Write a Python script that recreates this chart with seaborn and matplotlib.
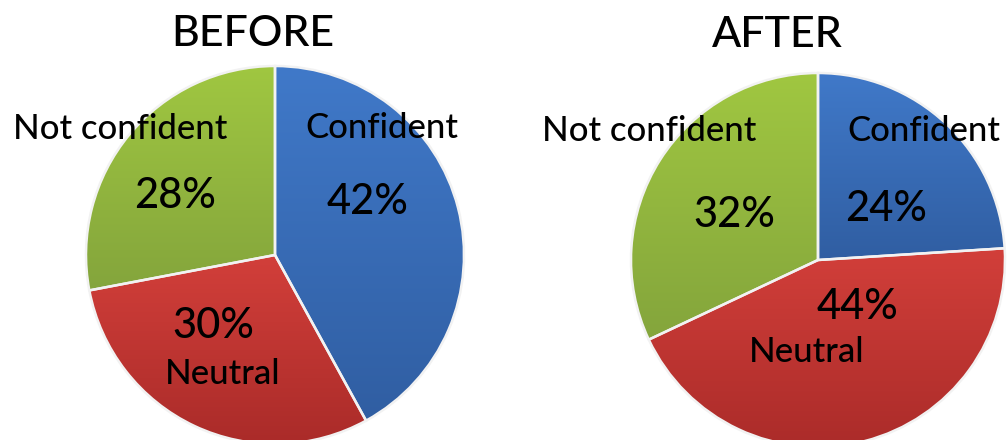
import numpy as np
import matplotlib
matplotlib.use("Agg")
import matplotlib.pyplot as plt
import seaborn as sns
from matplotlib.colors import LinearSegmentedColormap

# ---- data ----
categories = ["Confident", "Neutral", "Not confident"]
before_pct = [42, 30, 28]
after_pct = [24, 44, 32]
panel_titles = ["BEFORE", "AFTER"]

# ---- style ----
sns.set_theme(style="white")
plt.rcParams['font.family'] = ['Lato', 'DejaVu Sans']

top_colors = ["#4079c9", "#d23f3a", "#a0c741"]
bottom_colors = ["#305ea2", "#aa2b29", "#84a53c"]
mid_colors = sns.blend_palette(["#3a6db8", "#c03531", "#8fb33e"], 3)

W, H = 1008, 440
fig = plt.figure(figsize=(W / 100, H / 100), dpi=100)
ax = fig.add_axes([0, 0, 1, 1])
ax.set_xlim(0, W)
ax.set_ylim(0, H)
ax.set_aspect("equal")
ax.axis("off")

pies = [
    dict(values=before_pct, center=(275, 185), radius=189,
         title=(253, 406),
         label_pos=[(382, 312), (223, 66), (120, 311)],
         pct_pos=[(368, 238), (213, 114), (175, 244)]),
    dict(values=after_pct, center=(818, 180), radius=187,
         title=(777, 405),
         label_pos=[(924, 309), (807, 88), (649, 309)],
         pct_pos=[(886, 231), (857, 133), (734, 225)]),
]

for spec, title in zip(pies, panel_titles):
    wedges, _ = ax.pie(spec["values"], startangle=90, counterclock=False,
                       colors=mid_colors, center=spec["center"],
                       radius=spec["radius"], frame=True,
                       wedgeprops=dict(linewidth=1.8, edgecolor="#f2f2f2"))
    for i, w in enumerate(wedges):
        verts = w.get_path().vertices
        y0, y1 = verts[:, 1].min(), verts[:, 1].max()
        x0, x1 = verts[:, 0].min(), verts[:, 0].max()
        cmap = LinearSegmentedColormap.from_list(
            f"g{i}", [bottom_colors[i], top_colors[i]])
        grad = np.linspace(0, 1, 256).reshape(-1, 1)
        im = ax.imshow(grad, cmap=cmap, origin="lower",
                       extent=(x0, x1, y0, y1), aspect="auto",
                       zorder=w.get_zorder() - 0.1, interpolation="bilinear")
        im.set_clip_path(w)
        w.set_facecolor("none")
    for cat, pos in zip(categories, spec["label_pos"]):
        ax.text(pos[0], pos[1], cat, ha="center", va="center",
                fontsize=25, fontweight="medium", color="black", zorder=5)
    for v, pos in zip(spec["values"], spec["pct_pos"]):
        ax.text(pos[0], pos[1], f"{v}%", ha="center", va="center",
                fontsize=30, fontweight="medium", color="black", zorder=5)
    ax.text(spec["title"][0], spec["title"][1], title, ha="center",
            va="center", fontsize=31, fontweight="medium", color="black",
            zorder=5)

ax.set_xlim(0, W)
ax.set_ylim(0, H)
ax.set_aspect("equal")
ax.axis("off")
fig.savefig("out.png", dpi=100, facecolor="white")
